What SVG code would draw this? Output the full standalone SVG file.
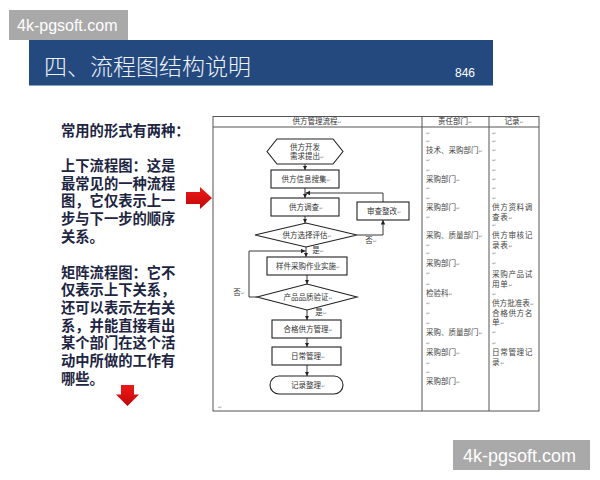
<svg xmlns="http://www.w3.org/2000/svg" width="600" height="480" viewBox="0 0 600 480">
<defs>
<style>
.wm{fill:#a9a9a9}
.wmt{font-family:"Liberation Sans",Arial,sans-serif;fill:#ffffff}
.lt{font-family:"Noto Sans CJK SC",sans-serif;font-weight:700;font-size:14.3px;fill:#1d2542}
.box{fill:#ffffff;stroke:#222222;stroke-width:1.1}
.ft{font-family:"Noto Sans CJK SC",sans-serif;font-size:7.5px;fill:#333333;text-anchor:middle}
.ct{font-family:"Noto Sans CJK SC",sans-serif;font-size:7.5px;fill:#444444}
.rt{font-family:"Noto Sans CJK SC",sans-serif;font-size:7.6px;letter-spacing:0.6px;fill:#444444}
.rm{font-family:"DejaVu Sans",sans-serif;font-size:5px;fill:#999999}
.tbl{fill:none;stroke:#555555;stroke-width:1}
.cn{fill:none;stroke:#222222;stroke-width:0.9}
.ra{fill:url(#red)}
</style>
<marker id="ah" viewBox="0 0 6 6" refX="6" refY="3" markerWidth="4.5" markerHeight="4.5" markerUnits="userSpaceOnUse" orient="auto">
<path d="M0,0L6,3L0,6z" fill="#222222"/>
</marker>
<linearGradient id="red" x1="0" y1="0" x2="0" y2="1">
<stop offset="0" stop-color="#f01818"/>
<stop offset="1" stop-color="#c00808"/>
</linearGradient>
</defs>

<rect x="0" y="0" width="600" height="480" fill="#ffffff"/>

<g id="watermark-top">
<rect class="wm" x="9" y="10" width="119" height="30"/>
<text class="wmt" x="17" y="31" font-size="16">4k-pgsoft.com</text>
</g>

<g id="title-bar">
<rect x="29" y="40" width="464" height="46" fill="#24497e"/>
<line x1="29" y1="85.5" x2="493" y2="85.5" stroke="#8aa3c6" stroke-width="1"/>
<text x="44" y="75" font-family="'Noto Sans CJK SC',sans-serif" font-size="23" font-weight="300" fill="#eef2f8">四、流程图结构说明</text>
<text x="455" y="77" font-family="'Liberation Sans',Arial,sans-serif" font-size="12" fill="#ffffff">846</text>
</g>

<g id="left-text">
<text class="lt" x="61" y="136">常用的形式有两种：</text>
<text class="lt" x="61" y="171">上下流程图：这是<tspan x="61" dy="17.6">最常见的一种流程</tspan><tspan x="61" dy="17.8">图，它仅表示上一</tspan><tspan x="61" dy="17.8">步与下一步的顺序</tspan><tspan x="61" dy="17.6">关系。</tspan></text>
<text class="lt" x="61" y="277.5">矩阵流程图：它不<tspan x="61" dy="17.8">仅表示上下关系，</tspan><tspan x="61" dy="17.6">还可以表示左右关</tspan><tspan x="61" dy="17.6">系，并能直接看出</tspan><tspan x="61" dy="17.8">某个部门在这个活</tspan><tspan x="61" dy="17.6">动中所做的工作有</tspan><tspan x="61" dy="17.8">哪些。</tspan></text>
</g>

<g id="arrow-right">
<polygon class="ra" points="186,192 200,192 200,187 212,198 200,209 200,204 186,204"/>
</g>
<g id="arrow-down">
<polygon class="ra" points="121,385 134,385 134,394.5 139,394.5 127.5,406 116,394.5 121,394.5"/>
</g>

<g id="table">
<rect class="tbl" x="213" y="116.5" width="326" height="294.5"/>
<line class="tbl" x1="213" y1="127" x2="539" y2="127"/>
<line class="tbl" x1="422" y1="116.5" x2="422" y2="411"/>
<line class="tbl" x1="489" y1="116.5" x2="489" y2="411"/>
<text class="ft" x="317" y="124">供方管理流程<tspan class="rm">↵</tspan></text>
<text class="ft" x="455" y="124">责任部门<tspan class="rm">↵</tspan></text>
<text class="ft" x="514" y="124">记录<tspan class="rm">↵</tspan></text>
<text class="rm" x="218" y="409">↵</text>
</g>

<g id="connectors">
<line class="cn" x1="305" y1="164" x2="305" y2="170" marker-end="url(#ah)"/>
<line class="cn" x1="305" y1="188" x2="305" y2="198" marker-end="url(#ah)"/>
<polyline class="cn" points="383,202 383,193 305.5,193" marker-end="url(#ah)"/>
<line class="cn" x1="305" y1="216" x2="305" y2="223" marker-end="url(#ah)"/>
<polyline class="cn" points="357,235 383,235 383,220" marker-end="url(#ah)"/>
<line class="cn" x1="306" y1="247" x2="306" y2="257" marker-end="url(#ah)"/>
<polyline class="cn" points="257,297 249,297 249,251 305.5,251" marker-end="url(#ah)"/>
<line class="cn" x1="307" y1="275" x2="307" y2="284" marker-end="url(#ah)"/>
<line class="cn" x1="307" y1="310" x2="307" y2="320" marker-end="url(#ah)"/>
<line class="cn" x1="307" y1="338" x2="307" y2="347" marker-end="url(#ah)"/>
<line class="cn" x1="307" y1="365" x2="307" y2="376" marker-end="url(#ah)"/>
<text class="ft" x="371" y="243">否<tspan class="rm">↵</tspan></text>
<text class="ft" x="318" y="253">是<tspan class="rm">↵</tspan></text>
<text class="ft" x="239" y="295">否<tspan class="rm">↵</tspan></text>
<text class="ft" x="321" y="315">是<tspan class="rm">↵</tspan></text>
</g>

<g id="n-start">
<polygon class="box" points="267,151.5 277,139 333,139 343,151.5 333,164 277,164"/>
<text class="ft" x="305" y="149.5">供方开发</text>
<text class="ft" x="307" y="159">需求提出<tspan class="rm">↵</tspan></text>
</g>
<g id="n-collect">
<rect class="box" x="271" y="170" width="68" height="18"/>
<text class="ft" x="306" y="181.7">供方信息搜集<tspan class="rm">↵</tspan></text>
</g>
<g id="n-survey">
<rect class="box" x="271" y="198" width="68" height="18"/>
<text class="ft" x="306" y="209.7">供方调查<tspan class="rm">↵</tspan></text>
</g>
<g id="n-rectify">
<rect class="box" x="357" y="202" width="52" height="18"/>
<text class="ft" x="384" y="213.7">审查整改<tspan class="rm">↵</tspan></text>
</g>
<g id="n-evaluate">
<polygon class="box" points="255,235 306,223 357,235 306,247"/>
<text class="ft" x="307" y="237.7">供方选择评估<tspan class="rm">↵</tspan></text>
</g>
<g id="n-sample">
<rect class="box" x="267" y="257" width="80" height="18"/>
<text class="ft" x="308" y="268.7">样件采购作业实施<tspan class="rm">↵</tspan></text>
</g>
<g id="n-verify">
<polygon class="box" points="257,297 307,284 357,297 307,310"/>
<text class="ft" x="308" y="299.7">产品品质验证<tspan class="rm">↵</tspan></text>
</g>
<g id="n-qualified">
<rect class="box" x="272" y="320" width="69" height="18"/>
<text class="ft" x="308" y="331.7">合格供方管理<tspan class="rm">↵</tspan></text>
</g>
<g id="n-daily">
<rect class="box" x="272" y="347" width="69" height="18"/>
<text class="ft" x="308" y="358.7">日常管理<tspan class="rm">↵</tspan></text>
</g>
<g id="n-record">
<rect class="box" x="270" y="376" width="73" height="18" rx="9" ry="9"/>
<text class="ft" x="308" y="387.7">记录整理<tspan class="rm">↵</tspan></text>
</g>

<g id="col-dept">
<text class="rm" x="426" y="135">↵</text>
<text class="rm" x="426" y="143">↵</text>
<text class="ct" x="426" y="152.7">技术、采购部门<tspan class="rm">↵</tspan></text>
<text class="rm" x="426" y="162">↵</text>
<text class="rm" x="426" y="172">↵</text>
<text class="ct" x="426" y="181.7">采购部门<tspan class="rm">↵</tspan></text>
<text class="rm" x="426" y="190">↵</text>
<text class="rm" x="426" y="200">↵</text>
<text class="ct" x="426" y="209.7">采购部门<tspan class="rm">↵</tspan></text>
<text class="rm" x="426" y="219">↵</text>
<text class="ct" x="426" y="237.7">采购、质量部门<tspan class="rm">↵</tspan></text>
<text class="rm" x="426" y="247">↵</text>
<text class="rm" x="426" y="255">↵</text>
<text class="ct" x="426" y="265.7">采购部门<tspan class="rm">↵</tspan></text>
<text class="rm" x="426" y="275">↵</text>
<text class="rm" x="426" y="286">↵</text>
<text class="ct" x="426" y="295.7">检验科<tspan class="rm">↵</tspan></text>
<text class="rm" x="426" y="305">↵</text>
<text class="rm" x="426" y="315">↵</text>
<text class="rm" x="426" y="325">↵</text>
<text class="ct" x="426" y="334.7">采购、质量部门<tspan class="rm">↵</tspan></text>
<text class="rm" x="426" y="345">↵</text>
<text class="ct" x="426" y="354.7">采购部门<tspan class="rm">↵</tspan></text>
<text class="rm" x="426" y="365">↵</text>
<text class="rm" x="426" y="374">↵</text>
<text class="ct" x="426" y="383.7">采购部门<tspan class="rm">↵</tspan></text>
</g>

<g id="col-record">
<text class="rm" x="492" y="135">↵</text>
<text class="rm" x="492" y="143">↵</text>
<text class="rm" x="492" y="152">↵</text>
<text class="rm" x="492" y="162">↵</text>
<text class="rm" x="492" y="172">↵</text>
<text class="rm" x="492" y="181">↵</text>
<text class="rm" x="492" y="190">↵</text>
<text class="rm" x="492" y="200">↵</text>
<text class="rt" x="492" y="209.8">供方资料调<tspan x="492" dy="10">查表</tspan><tspan class="rm">↵</tspan></text>
<text class="rm" x="492" y="227">↵</text>
<text class="rt" x="492" y="237.8">供方审核记<tspan x="492" dy="10">录表</tspan><tspan class="rm">↵</tspan></text>
<text class="rm" x="492" y="255">↵</text>
<text class="rm" x="492" y="265">↵</text>
<text class="rt" x="492" y="276.8">采购产品试<tspan x="492" dy="10">用单</tspan><tspan class="rm">↵</tspan></text>
<text class="rm" x="492" y="296">↵</text>
<text class="rt" x="492" y="305.8"><tspan letter-spacing="0">供方批准表</tspan><tspan class="rm">↵</tspan><tspan x="492" dy="10">合格供方名</tspan><tspan x="492" dy="9.2">单</tspan><tspan class="rm">↵</tspan></text>
<text class="rm" x="492" y="334">↵</text>
<text class="rm" x="492" y="345">↵</text>
<text class="rt" x="492" y="354.8">日常管理记<tspan x="492" dy="10">录</tspan><tspan class="rm">↵</tspan></text>
</g>

<g id="watermark-bottom">
<rect class="wm" x="453" y="440" width="137" height="30"/>
<text class="wmt" x="463" y="462" font-size="18">4k-pgsoft.com</text>
</g>
</svg>
